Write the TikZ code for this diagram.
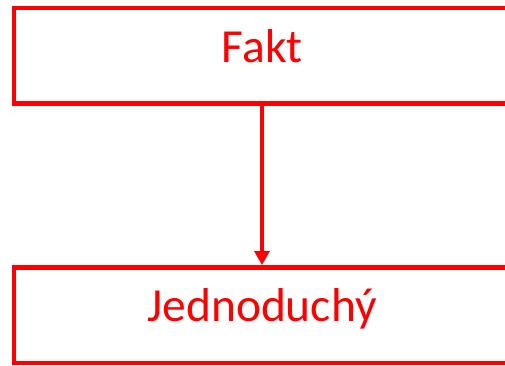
\documentclass[tikz,border=0pt]{standalone}
\usepackage{fontspec}
\setmainfont{Carlito}
\usepackage{tikz}
\usetikzlibrary{arrows.meta}

\tikzset{
	faktbox/.style = {draw=red, line width=4.5pt, minimum width=496pt, minimum height=95.5pt,
		text=red, font=\fontsize{47.5pt}{50pt}\selectfont, text height=12.5pt, text depth=0pt, inner sep=0pt},
	faktarrow/.style = {draw=red, line width=4.5pt, -{Triangle[length=14pt, width=15pt]}}
}

\begin{document}
\begin{tikzpicture}[x = 1pt, y = 1pt]
% picture frame
	\clip (0,0) rectangle (505,-365);

% boxes
	\node[faktbox] (fakt) at (262,-55.75) {Fakt};
	\node[faktbox] (jednoduchy) at (262,-315) {Jednoduchý};

% arrow
	\draw[faktarrow] (fakt.south) -- (jednoduchy.north);
\end{tikzpicture}
\end{document}
